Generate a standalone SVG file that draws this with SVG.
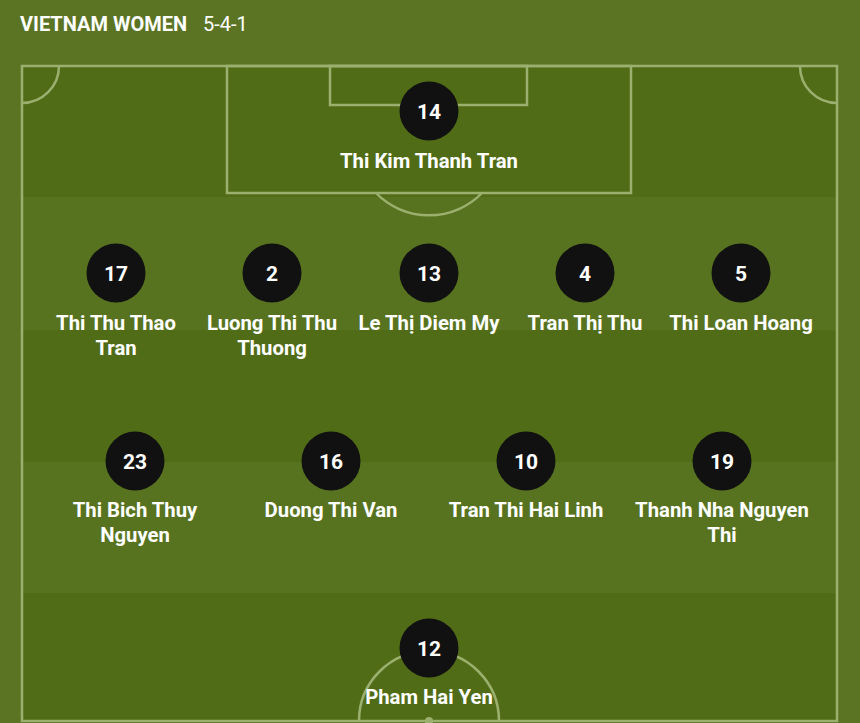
<svg xmlns="http://www.w3.org/2000/svg" width="860" height="723" viewBox="0 0 860 723">
<style>
.ln{fill:none;stroke:#9bb06f;stroke-width:2.5}
.dot{fill:#111111}
.num{font-family:Roboto,"Liberation Sans",sans-serif;font-weight:700;font-size:21px;fill:#ffffff;text-anchor:middle}
.nm{font-family:Roboto,"Liberation Sans",sans-serif;font-weight:700;font-size:20.3px;fill:#ffffff;text-anchor:middle}
</style>
<rect x="0" y="0" width="860" height="723" fill="#5b7424"/>
<g id="pitch">
<rect x="22" y="66" width="815" height="131" fill="#516c17"/>
<rect x="22" y="197" width="815" height="133" fill="#587320"/>
<rect x="22" y="330" width="815" height="132" fill="#516c17"/>
<rect x="22" y="462" width="815" height="131" fill="#587320"/>
<rect x="22" y="593" width="815" height="130" fill="#516c17"/>
<rect class="ln" x="22" y="66" width="815" height="655"/>
<rect class="ln" x="227" y="66" width="404" height="127"/>
<rect class="ln" x="330" y="66" width="197" height="39"/>
<path class="ln" d="M376,193 A74,74 0 0 0 482,193"/>
<path class="ln" d="M59,66 A37,37 0 0 1 22,103"/>
<path class="ln" d="M800,66 A37,37 0 0 0 837,103"/>
<path class="ln" d="M359,721 A70,70 0 0 1 499,721"/>
<circle cx="429" cy="721" r="4" fill="#9bb06f"/>
</g>
<text x="20" y="31" font-family="Roboto,'Liberation Sans',sans-serif" font-size="20" fill="#ffffff"><tspan font-weight="700">VIETNAM WOMEN</tspan><tspan x="203">5-4-1</tspan></text>
<g id="connectors"></g>
<g id="p14"><circle class="dot" cx="429" cy="111" r="29.5"/><text class="num" x="429" y="118.5">14</text><text class="nm" x="429" y="168">Thi Kim Thanh Tran</text></g>
<g id="p17"><circle class="dot" cx="116" cy="273" r="29.5"/><text class="num" x="116" y="280.5">17</text><text class="nm" x="116" y="330">Thi Thu Thao</text><text class="nm" x="116" y="355">Tran</text></g>
<g id="p2"><circle class="dot" cx="272" cy="273" r="29.5"/><text class="num" x="272" y="280.5">2</text><text class="nm" x="272" y="330">Luong Thi Thu</text><text class="nm" x="272" y="355">Thuong</text></g>
<g id="p13"><circle class="dot" cx="429" cy="273" r="29.5"/><text class="num" x="429" y="280.5">13</text><text class="nm" x="429" y="330">Le Thị Diem My</text></g>
<g id="p4"><circle class="dot" cx="585" cy="273" r="29.5"/><text class="num" x="585" y="280.5">4</text><text class="nm" x="585" y="330">Tran Thị Thu</text></g>
<g id="p5"><circle class="dot" cx="741" cy="273" r="29.5"/><text class="num" x="741" y="280.5">5</text><text class="nm" x="741" y="330">Thi Loan Hoang</text></g>
<g id="p23"><circle class="dot" cx="135" cy="461" r="29.5"/><text class="num" x="135" y="468.5">23</text><text class="nm" x="135" y="517">Thi Bich Thuy</text><text class="nm" x="135" y="542">Nguyen</text></g>
<g id="p16"><circle class="dot" cx="331" cy="461" r="29.5"/><text class="num" x="331" y="468.5">16</text><text class="nm" x="331" y="517">Duong Thi Van</text></g>
<g id="p10"><circle class="dot" cx="526" cy="461" r="29.5"/><text class="num" x="526" y="468.5">10</text><text class="nm" x="526" y="517">Tran Thi Hai Linh</text></g>
<g id="p19"><circle class="dot" cx="722" cy="461" r="29.5"/><text class="num" x="722" y="468.5">19</text><text class="nm" x="722" y="517">Thanh Nha Nguyen</text><text class="nm" x="722" y="542">Thi</text></g>
<g id="p12"><circle class="dot" cx="429" cy="648" r="29.5"/><text class="num" x="429" y="655.5">12</text><text class="nm" x="429" y="704">Pham Hai Yen</text></g>
</svg>
